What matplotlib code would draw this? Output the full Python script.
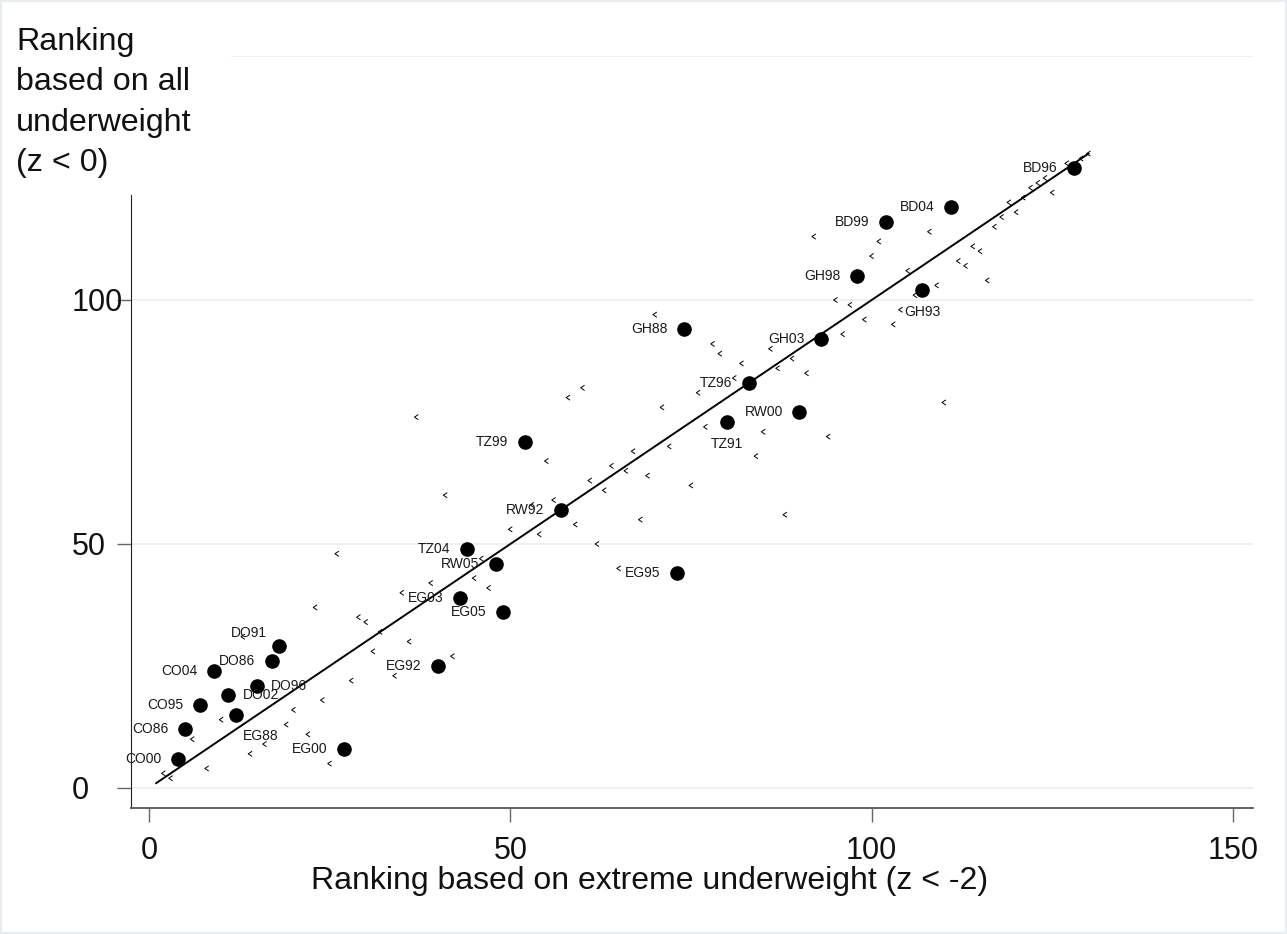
import numpy as np
import matplotlib
matplotlib.use("Agg")
import matplotlib.pyplot as plt
from matplotlib.patches import Rectangle

plt.rcParams['font.family'] = ['Liberation Sans', 'DejaVu Sans']

# labelled surveys: rank on extreme underweight (x) vs rank on all underweight (y)
survey_names = ["CO00", "CO86", "CO95", "CO04", "DO02", "EG88", "DO96", "DO86", "DO91",
                "EG00", "EG92", "EG03", "EG05", "TZ04", "RW05", "RW92", "EG95", "TZ99",
                "GH88", "TZ96", "TZ91", "RW00", "GH03", "GH98", "GH93", "BD99", "BD04", "BD96"]
survey_x = [4, 5, 7, 9, 11, 12, 15, 17, 18,
            27, 40, 43, 49, 44, 48, 57, 73, 52,
            74, 83, 80, 90, 93, 98, 107, 102, 111, 128]
survey_y = [6, 12, 17, 24, 19, 15, 21, 26, 29,
            8, 25, 39, 36, 49, 46, 57, 44, 71,
            94, 83, 75, 77, 92, 105, 102, 116, 119, 127]
# Stata-style clock position of each label
label_pos = [9, 9, 9, 9, 3, 5, 3, 9, 11,
             9, 9, 9, 9, 9, 9, 9, 9, 9,
             9, 9, 6, 9, 9, 9, 6, 9, 9, 9]

# all other surveys
other_x = [23, 29, 30, 32, 31, 34, 28, 24, 20, 19, 22, 16, 14, 25, 8, 2, 3, 6, 10, 13,
           26, 37, 41, 53, 56, 50, 54, 59, 63, 61, 75, 68, 62, 46, 45, 39, 47, 35, 65, 36,
           42, 70, 78, 79, 82, 86, 87, 89, 91, 96, 99, 103, 95, 97, 81, 76, 71, 60, 58, 77,
           85, 94, 84, 72, 67, 55, 64, 66, 69, 88, 92, 101, 100, 108, 105, 109, 106, 104, 112, 113,
           114, 115, 116, 117, 118, 120, 119, 121, 122, 123, 124, 125, 127, 129, 130, 110]
other_y = [37, 35, 34, 32, 28, 23, 22, 18, 16, 13, 11, 9, 7, 5, 4, 3, 2, 10, 14, 31,
           48, 76, 60, 58, 59, 53, 52, 54, 61, 63, 62, 55, 50, 47, 43, 42, 41, 40, 45, 30,
           27, 97, 91, 89, 87, 90, 86, 88, 85, 93, 96, 95, 100, 99, 84, 81, 78, 82, 80, 74,
           73, 72, 68, 70, 69, 67, 66, 65, 64, 56, 113, 112, 109, 114, 106, 103, 101, 98, 108, 107,
           111, 110, 104, 115, 117, 118, 120, 121, 123, 124, 125, 122, 128, 129, 130, 79]

x_ticks = [0, 50, 100, 150]
y_ticks = [0, 50, 100]

W, H = 1287, 934
fig = plt.figure(figsize=(W / 100, H / 100), dpi=100)
fig.patches.append(Rectangle((0, 0), 1, 1, transform=fig.transFigure, fill=False,
                             edgecolor="#e6eef0", linewidth=3))

ax = fig.add_axes([131 / W, 126 / H, 1122 / W, 752 / H])
ax.set_xlim(-2.49, 152.76)
ax.set_ylim(-4.1, 150)

# light horizontal grid (the top one stops short of the y title)
for v in y_ticks:
    ax.axhline(v, color="#e8eff1", linewidth=1.2, zorder=0)
ax.axhline(150, xmin=0.09, color="#e8eff1", linewidth=1.2, zorder=0)

# 45 degree line over the range of ranks
all_x = survey_x + other_x
lo, hi = 1, max(all_x)
ax.plot([lo, hi], [lo, hi], color="black", linewidth=1.4, zorder=2)

small = [(0.6, 0.8), (-0.6, 0.0), (0.6, -0.8)]
ax.scatter(other_x, other_y, marker=small, s=14, facecolors="none",
           edgecolors="black", linewidths=0.7, zorder=3)
ax.scatter(survey_x, survey_y, s=90, color="black", zorder=4)

offsets = {9: (-12, 0, "right"), 3: (10, 0, "left"), 11: (-8.5, 10, "right"),
           6: (0, -15.5, "center"), 5: (5, -15, "left")}
for name, xv, yv, p in zip(survey_names, survey_x, survey_y, label_pos):
    dx, dy, ha = offsets[p]
    ax.annotate(name, (xv, yv), xytext=(dx, dy), textcoords="offset points",
                ha=ha, va="center", fontsize=10, color="#1a1a1a", zorder=5)

for s in ["top", "right"]:
    ax.spines[s].set_visible(False)
ax.spines["left"].set_bounds(-4.1, 121.5)
ax.spines["left"].set_color("#222222")
ax.spines["bottom"].set_color("#555555")
ax.spines["bottom"].set_linewidth(1.3)

ax.set_xticks(x_ticks)
ax.set_yticks(y_ticks)
ax.tick_params(axis="x", length=10, width=1, color="#666666", pad=10.5,
               labelsize=22, labelcolor="#111111")
ax.tick_params(axis="y", length=10, width=1, color="#666666", pad=32.4,
               labelsize=22, labelcolor="#111111")
for lab in ax.get_yticklabels():
    lab.set_horizontalalignment("left")

ax.set_xlabel("Ranking based on extreme underweight (z < -2)", fontsize=23,
              color="#111111", va="top")
ax.xaxis.set_label_coords((650 - 131) / 1122, (808 - 866) / 752)

ytitle = ["Ranking", "based on all", "underweight", "(z < 0)"]
for i, line in enumerate(ytitle):
    fig.text(16 / W, 1 - (50 + 40.3 * i) / H, line, fontsize=23.2,
             color="#111111", va="baseline", ha="left")

fig.savefig("out.png", dpi=100, facecolor="white")
